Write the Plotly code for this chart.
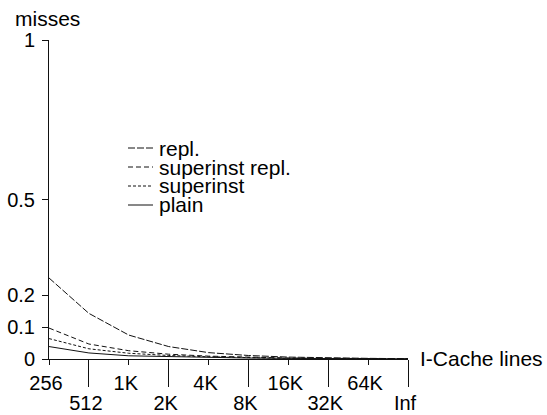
import plotly.graph_objects as go

# ---- data ----
cache_lines = ["256", "512", "1K", "2K", "4K", "8K", "16K", "32K", "64K", "Inf"]
series_names = ["repl.", "superinst repl.", "superinst", "plain"]
repl = [0.254, 0.143, 0.075, 0.039, 0.020, 0.011, 0.006, 0.003, 0.002, 0.001]
superinst_repl = [0.097, 0.047, 0.026, 0.015, 0.009, 0.005, 0.003, 0.002, 0.001, 0.001]
superinst = [0.064, 0.032, 0.018, 0.011, 0.007, 0.004, 0.002, 0.001, 0.001, 0.0005]
plain = [0.039, 0.019, 0.010, 0.007, 0.004, 0.003, 0.002, 0.001, 0.001, 0.0005]
y_ticks = [0, 0.1, 0.2, 0.5, 1]
y_ticktext = ["0", "0.1", "0.2", "0.5", "1"]

series_values = [repl, superinst_repl, superinst, plain]
dashes = ["7px,2px", "5px,3px", "3px,2px", "solid"]

W, H = 547, 415
AX_L, AX_R, AX_T, AX_B = 49, 408, 40, 359   # plot area in pixels
L, R, T, B = AX_L, W - AX_R, AX_T, H - AX_B
PW, PH = AX_R - AX_L, AX_B - AX_T
FONT = "Liberation Sans, Arial, Helvetica, sans-serif"
FS = 20
FS_TXT = 21
INK = "#111111"

fig = go.Figure()
for name, vals, dash in zip(series_names, series_values, dashes):
    fig.add_trace(go.Scatter(x=cache_lines, y=vals, mode="lines", name=name,
                             line=dict(color=INK, width=1, dash=dash),
                             showlegend=False, xaxis="x", yaxis="y"))
# invisible trace to register categories on secondary x axis
fig.add_trace(go.Scatter(x=cache_lines, y=plain, mode="none", showlegend=False,
                         hoverinfo="skip", xaxis="x2", yaxis="y"))

# manual legend
def px_to_paper_x(px):
    return (px - AX_L) / PW

def px_to_paper_y(py):
    return (AX_B - py) / PH

legend_rows = [148, 167, 186, 205]
for name, dash, ry in zip(series_names, dashes, legend_rows):
    fig.add_shape(type="line", xref="paper", yref="paper",
                  x0=px_to_paper_x(128), x1=px_to_paper_x(153),
                  y0=px_to_paper_y(ry), y1=px_to_paper_y(ry),
                  line=dict(color=INK, width=1, dash=dash))
    fig.add_annotation(text=name, xref="paper", yref="paper",
                       x=px_to_paper_x(158), y=px_to_paper_y(ry),
                       xanchor="left", yanchor="middle", showarrow=False,
                       borderpad=0,
                       font=dict(family=FONT, size=FS_TXT, color="black"))

fig.add_annotation(text="misses", xref="paper", yref="paper",
                   x=px_to_paper_x(14), y=px_to_paper_y(18),
                   xanchor="left", yanchor="middle", showarrow=False,
                   borderpad=0,
                   font=dict(family=FONT, size=FS_TXT, color="black"))
fig.add_annotation(text="I-Cache lines", xref="paper", yref="paper",
                   x=px_to_paper_x(419), y=px_to_paper_y(358),
                   xanchor="left", yanchor="middle", showarrow=False,
                   borderpad=0,
                   font=dict(family=FONT, size=FS_TXT, color="black"))

axis_common = dict(showgrid=False, zeroline=False, ticks="outside",
                   tickcolor=INK, tickwidth=1, automargin=False,
                   tickfont=dict(family=FONT, size=FS, color="black"))

fig.update_layout(
    width=W, height=H,
    margin=dict(l=L, r=R, t=T, b=B, pad=0, autoexpand=False),
    paper_bgcolor="white", plot_bgcolor="white",
    showlegend=False,
    font=dict(family=FONT, size=FS, color="black"),
    xaxis=dict(type="category", categoryorder="array", categoryarray=cache_lines,
               range=[0, len(cache_lines) - 1], tickmode="array",
               tickvals=cache_lines[0::2], ticktext=cache_lines[0::2],
               ticklen=5, showline=True, linecolor=INK, linewidth=1,
               ticklabelstandoff=1, ticklabelshift=-3, **axis_common),
    xaxis2=dict(type="category", categoryorder="array", categoryarray=cache_lines,
                overlaying="x", anchor="y", side="bottom",
                range=[0, len(cache_lines) - 1], tickmode="array",
                tickvals=cache_lines[1::2], ticktext=cache_lines[1::2],
                ticklen=27, showline=False, ticklabelstandoff=-1, ticklabelshift=-3,
                **axis_common),
    yaxis=dict(range=[0, 1], tickmode="array", tickvals=y_ticks, ticktext=y_ticktext,
               ticklen=6, showline=True, linecolor=INK, linewidth=1,
               ticklabelstandoff=3, **axis_common),
)

# remove the browser's default 8px page margin so the figure fills the window exactly
fig.write_html("out.html",
               config={"displayModeBar": False},
               post_script="document.body.style.margin='0';"
                           "document.body.style.overflow='hidden';")
